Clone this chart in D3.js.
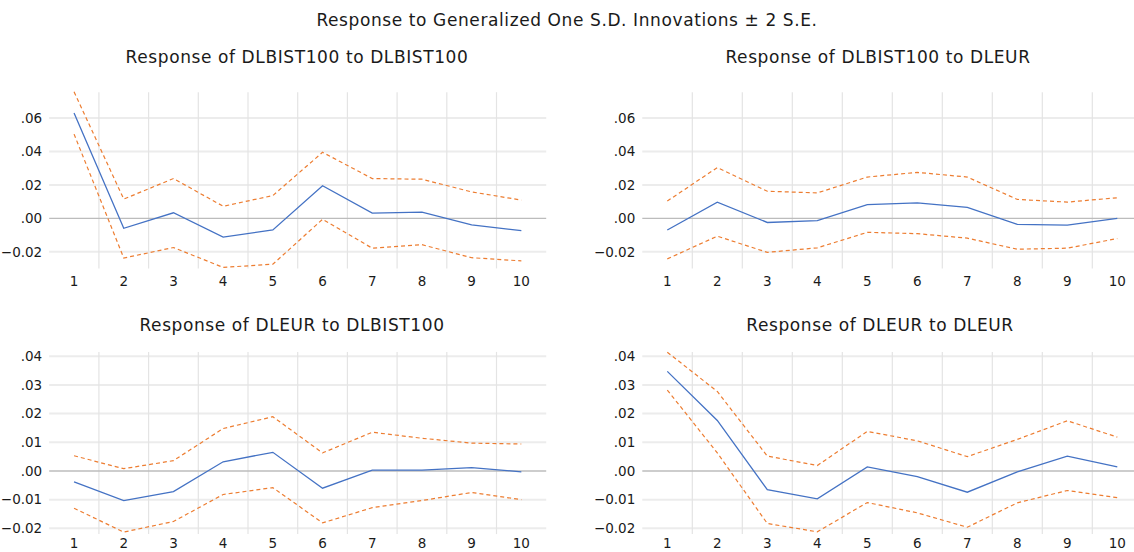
<!DOCTYPE html>
<html>
<head>
<meta charset="utf-8">
<script src="https://cdn.jsdelivr.net/npm/d3@7"></script>
<style>
  html, body { margin: 0; padding: 0; background: #ffffff; }
  svg { display: block; }
</style>
</head>
<body>
<svg id="chart" width="1134" height="552"></svg>
<script>
// ---------- DATA ----------
const periods = ["1", "2", "3", "4", "5", "6", "7", "8", "9", "10"];

const mainTitle = "Response to Generalized One S.D. Innovations \u00B1 2 S.E.";
const panelTitles = [
  "Response of DLBIST100 to DLBIST100",
  "Response of DLBIST100 to DLEUR",
  "Response of DLEUR to DLBIST100",
  "Response of DLEUR to DLEUR"
];

const topTicks = [-0.02, 0.00, 0.02, 0.04, 0.06];
const bottomTicks = [-0.02, -0.01, 0.00, 0.01, 0.02, 0.03, 0.04];

// Response of DLBIST100 to DLBIST100
const bistBistResp  = [0.0631, -0.0060, 0.0033, -0.0113, -0.0070, 0.0195, 0.0031, 0.0037, -0.0039, -0.0074];
const bistBistUpper = [0.0757, 0.0115, 0.0238, 0.0072, 0.0136, 0.0395, 0.0238, 0.0234, 0.0158, 0.0109];
const bistBistLower = [0.0504, -0.0238, -0.0175, -0.0294, -0.0275, -0.0006, -0.0179, -0.0158, -0.0236, -0.0255];

// Response of DLBIST100 to DLEUR
const bistEurResp  = [-0.0070, 0.0097, -0.0025, -0.0014, 0.0082, 0.0092, 0.0066, -0.0037, -0.0041, 0.0000];
const bistEurUpper = [0.0103, 0.0304, 0.0162, 0.0152, 0.0247, 0.0275, 0.0247, 0.0113, 0.0097, 0.0123];
const bistEurLower = [-0.0243, -0.0107, -0.0204, -0.0177, -0.0084, -0.0092, -0.0119, -0.0185, -0.0179, -0.0121];

// Response of DLEUR to DLBIST100
const eurBistResp  = [-0.0038, -0.0103, -0.0072, 0.0032, 0.0065, -0.0060, 0.0003, 0.0003, 0.0012, -0.0003];
const eurBistUpper = [0.0053, 0.0008, 0.0036, 0.0148, 0.0189, 0.0063, 0.0135, 0.0114, 0.0097, 0.0094];
const eurBistLower = [-0.0130, -0.0213, -0.0176, -0.0082, -0.0058, -0.0181, -0.0128, -0.0103, -0.0075, -0.0100];

// Response of DLEUR to DLEUR
const eurEurResp  = [0.0347, 0.0176, -0.0065, -0.0097, 0.0014, -0.0020, -0.0074, -0.0003, 0.0052, 0.0014];
const eurEurUpper = [0.0414, 0.0277, 0.0052, 0.0019, 0.0138, 0.0105, 0.0050, 0.0110, 0.0175, 0.0118];
const eurEurLower = [0.0282, 0.0063, -0.0183, -0.0212, -0.0110, -0.0146, -0.0196, -0.0111, -0.0068, -0.0093];

// ---------- LAYOUT ----------
const svg = d3.select("#chart");
const FONT = "'DejaVu Sans', Verdana, sans-serif";

const topDomain = [-0.030, 0.0755];
const bottomDomain = [-0.022, 0.0415];

const panels = [
  { title: panelTitles[0], resp: bistBistResp, upper: bistBistUpper, lower: bistBistLower,
    x0: 49.2, x1: 546.2, yTop: 92.2, yBot: 268.4, domain: topDomain, ticks: topTicks, tx: 297, ty: 63, xlab: 285.5 },
  { title: panelTitles[1], resp: bistEurResp, upper: bistEurUpper, lower: bistEurLower,
    x0: 642.3, x1: 1142.3, yTop: 92.2, yBot: 268.4, domain: topDomain, ticks: topTicks, tx: 878, ty: 63, xlab: 285.5 },
  { title: panelTitles[2], resp: eurBistResp, upper: eurBistUpper, lower: eurBistLower,
    x0: 49.2, x1: 546.2, yTop: 351.9, yBot: 534.1, domain: bottomDomain, ticks: bottomTicks, tx: 292, ty: 331, xlab: 548 },
  { title: panelTitles[3], resp: eurEurResp, upper: eurEurUpper, lower: eurEurLower,
    x0: 642.3, x1: 1142.3, yTop: 351.9, yBot: 534.1, domain: bottomDomain, ticks: bottomTicks, tx: 880, ty: 331, xlab: 548 }
];

const fmt = v => {
  const s = d3.format(".2f")(Math.abs(v) < 1e-9 ? 0 : v);
  return s.replace(/^(-?)0\./, "$1.");
};

svg.append("text")
  .attr("x", 567).attr("y", 26)
  .attr("text-anchor", "middle")
  .attr("font-family", FONT)
  .attr("font-size", 17)
  .attr("letter-spacing", 0.6)
  .attr("fill", "#1a1a1a")
  .text(mainTitle);

panels.forEach(p => {
  const g = svg.append("g");
  const x = d3.scaleBand().domain(periods).range([p.x0, p.x1]).padding(0);
  const y = d3.scaleLinear().domain(p.domain).range([p.yBot, p.yTop]);
  const cx = d => x(d) + x.bandwidth() / 2;

  // horizontal gridlines
  g.append("g").selectAll("line").data(p.ticks.filter(t => t !== 0)).join("line")
    .attr("x1", p.x0).attr("x2", p.x1)
    .attr("y1", d => y(d)).attr("y2", d => y(d))
    .attr("stroke", "#ececec").attr("stroke-width", 2);

  // vertical gridlines at band boundaries
  g.append("g").selectAll("line").data(periods.slice(1)).join("line")
    .attr("x1", d => x(d)).attr("x2", d => x(d))
    .attr("y1", p.yTop).attr("y2", p.yBot)
    .attr("stroke", "#e4e4e4").attr("stroke-width", 1.2);

  // zero line
  g.append("line")
    .attr("x1", p.x0).attr("x2", p.x1)
    .attr("y1", y(0)).attr("y2", y(0))
    .attr("stroke", "#bcbcbc").attr("stroke-width", 1.3);

  // y axis labels
  const yAxis = d3.axisLeft(y).tickValues(p.ticks).tickFormat(fmt).tickSize(0).tickPadding(7);
  const ya = g.append("g").attr("transform", `translate(${p.x0},0)`).call(yAxis);
  ya.select(".domain").remove();
  ya.selectAll("text").attr("font-family", FONT).attr("font-size", 13.5).attr("fill", "#1a1a1a");

  // x axis labels (baseline placed explicitly)
  const xAxis = d3.axisBottom(x).tickSize(0).tickPadding(0);
  const xa = g.append("g").attr("transform", `translate(0,${p.xlab})`).call(xAxis);
  xa.select(".domain").remove();
  xa.selectAll("text").attr("font-family", FONT).attr("font-size", 13.5)
    .attr("fill", "#1a1a1a").attr("dy", "0").attr("y", 0);

  const line = d3.line().x((d, i) => cx(periods[i])).y(d => y(d));

  g.append("path").datum(p.upper).attr("d", line)
    .attr("fill", "none").attr("stroke", "#ed7d31").attr("stroke-width", 1.2)
    .attr("stroke-dasharray", "4,3");
  g.append("path").datum(p.lower).attr("d", line)
    .attr("fill", "none").attr("stroke", "#ed7d31").attr("stroke-width", 1.2)
    .attr("stroke-dasharray", "4,3");
  g.append("path").datum(p.resp).attr("d", line)
    .attr("fill", "none").attr("stroke", "#4472c4").attr("stroke-width", 1.3);

  svg.append("text")
    .attr("x", p.tx).attr("y", p.ty)
    .attr("text-anchor", "middle")
    .attr("font-family", FONT)
    .attr("font-size", 17)
    .attr("letter-spacing", 0.6)
    .attr("fill", "#1a1a1a")
    .text(p.title);
});
</script>
</body>
</html>
